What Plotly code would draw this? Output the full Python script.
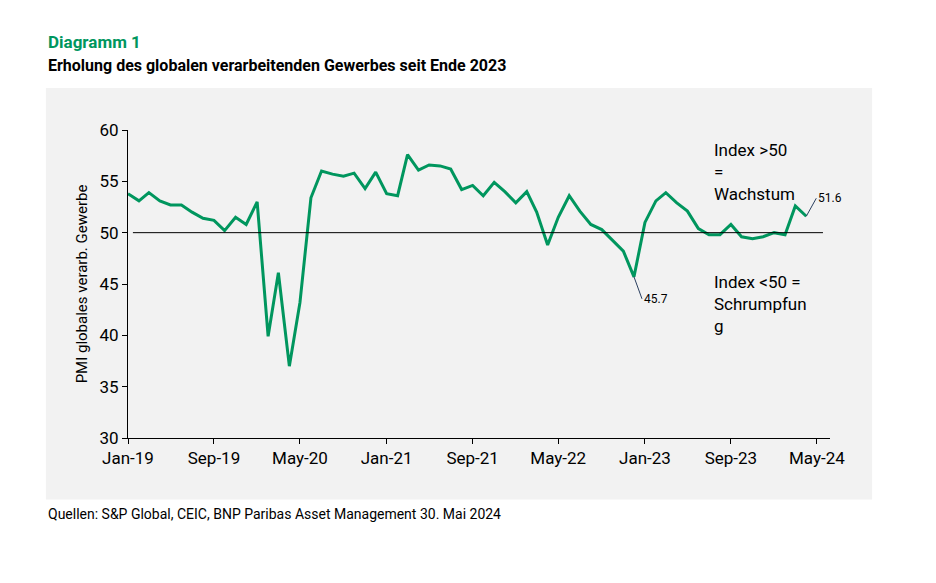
import pandas as pd
import plotly.graph_objects as go

# monthly PMI, Jan 2019 - Apr 2024
months = pd.date_range("2019-01-01", periods=64, freq="MS")
pmi = [53.8, 53.1, 53.9, 53.1, 52.7, 52.7, 52.0, 51.4, 51.2, 50.2, 51.5, 50.8,
       53.0, 39.9, 46.1, 37.0, 43.2, 53.4, 56.0, 55.7, 55.5, 55.8, 54.3, 55.9,
       53.8, 53.6, 57.6, 56.1, 56.6, 56.5, 56.2, 54.2, 54.6, 53.6, 54.9, 54.0,
       52.9, 54.0, 52.0, 48.8, 51.5, 53.6, 52.1, 50.8, 50.3, 49.3, 48.2, 45.7,
       51.0, 53.1, 53.9, 52.9, 52.1, 50.4, 49.8, 49.8, 50.8, 49.6, 49.4, 49.6,
       50.0, 49.8, 52.6, 51.6]
tick_dates = ["2019-01-01", "2019-09-01", "2020-05-01", "2021-01-01", "2021-09-01",
              "2022-05-01", "2023-01-01", "2023-09-01", "2024-05-01"]
tick_text = ["Jan-19", "Sep-19", "May-20", "Jan-21", "Sep-21",
             "May-22", "Jan-23", "Sep-23", "May-24"]

FONT = "Liberation Sans Narrow, Roboto, sans-serif"
GREEN = "#00965e"

fig = go.Figure(go.Scatter(x=months, y=pmi, mode="lines",
                           line=dict(color=GREEN, width=3), hoverinfo="x+y"))

# grey panel behind the chart and the 50 line
fig.add_shape(type="rect", xref="paper", yref="paper", x0=-0.117, x1=1.06,
              y0=-0.2, y1=1.136, fillcolor="#f2f2f2", line_width=0, layer="below")
fig.add_shape(type="line", xref="paper", yref="y", x0=0.007, x1=0.99, y0=50, y1=50,
              line=dict(color="black", width=1))

fig.add_annotation(x=months[47], y=pmi[47], text="45.7", showarrow=True,
                   arrowhead=0, arrowwidth=1, ax=8, ay=22, xanchor="left",
                   font=dict(size=12, color="black"))
fig.add_annotation(x=months[63], y=pmi[63], text="51.6", showarrow=True,
                   arrowhead=0, arrowwidth=1, ax=10, ay=-18, xanchor="left",
                   font=dict(size=12, color="black"))
fig.add_annotation(x=0.832, xref="paper", y=59.2, text="Index >50<br>=<br>Wachstum",
                   showarrow=False, xanchor="left", yanchor="top", align="left",
                   font=dict(size=17, color="black"))
fig.add_annotation(x=0.832, xref="paper", y=46.4, text="Index <50 =<br>Schrumpfun<br>g",
                   showarrow=False, xanchor="left", yanchor="top", align="left",
                   font=dict(size=17, color="black"))

fig.add_annotation(x=-0.117, xref="paper", y=1.286, yref="paper", text="<b>Diagramm 1</b>",
                   showarrow=False, xanchor="left", yanchor="middle",
                   font=dict(size=17, color=GREEN))
fig.add_annotation(x=-0.117, xref="paper", y=1.208, yref="paper",
                   text="<b>Erholung des globalen verarbeitenden Gewerbes seit Ende 2023</b>",
                   showarrow=False, xanchor="left", yanchor="middle",
                   font=dict(size=16, color="black"))
fig.add_annotation(x=-0.117, xref="paper", y=-0.247, yref="paper",
                   text="Quellen: S&P Global, CEIC, BNP Paribas Asset Management 30. Mai 2024",
                   showarrow=False, xanchor="left", yanchor="middle",
                   font=dict(size=14, color="black"))

fig.update_layout(
    width=936, height=583, showlegend=False,
    font=dict(family=FONT, color="black"),
    paper_bgcolor="white", plot_bgcolor="#f2f2f2",
    margin=dict(l=120, r=114, t=122, b=153),
    xaxis=dict(range=["2019-01-01", "2024-06-07"], tickvals=tick_dates, ticktext=tick_text,
               ticks="outside", ticklen=5, tickcolor="black", showgrid=False,
               showline=True, linecolor="black", tickfont=dict(size=17)),
    yaxis=dict(range=[30, 60], dtick=5, ticks="outside", ticklen=5, tickcolor="black",
               showgrid=False, zeroline=False, showline=True, linecolor="black",
               tickfont=dict(size=17),
               title=dict(text="PMI globales verarb. Gewerbe", font=dict(size=15), standoff=8)),
)

fig.write_html("out.html")
